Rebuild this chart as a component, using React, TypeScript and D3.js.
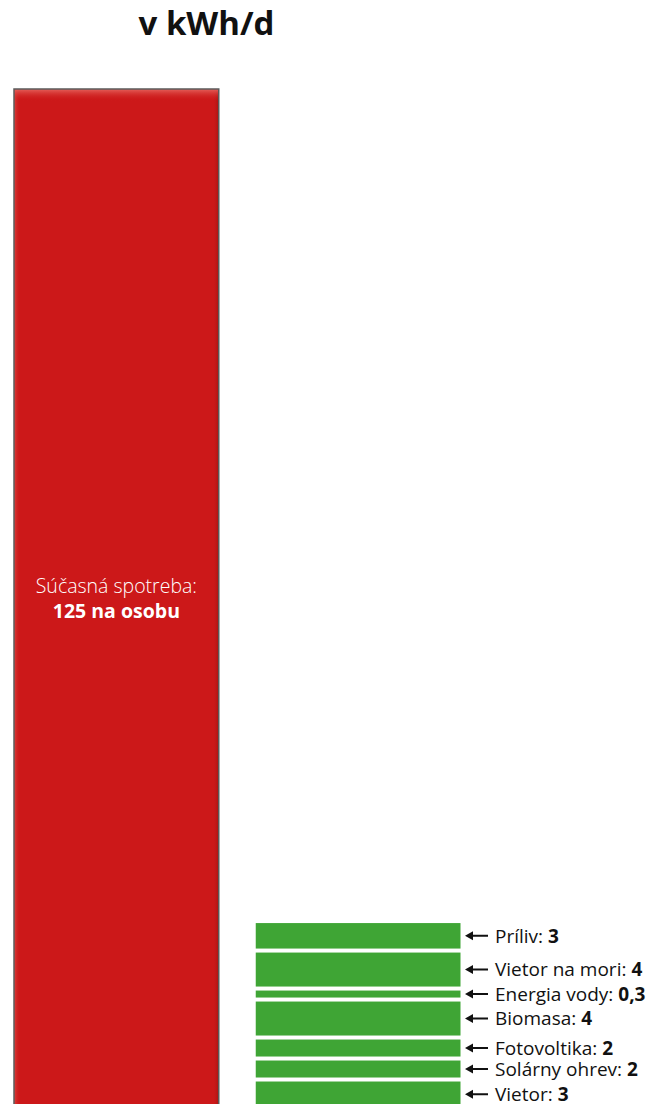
import React from "react";
import * as d3 from "d3";

const title = "v kWh/d";
const consumption = 125;
const consumptionLines = ["Súčasná spotreba:", "125 na osobu"];
const categories = ["Príliv", "Vietor na mori", "Energia vody", "Biomasa", "Fotovoltika", "Solárny ohrev", "Vietor"];
const values = [3, 4, 0.3, 4, 2, 2, 3];
const valueLabels = ["3", "4", "0,3", "4", "2", "2", "3"];

const W = 665;
const H = 1104;
const FONT = "'Open Sans', 'Noto Sans', sans-serif";

export default function App() {
  const y = d3.scaleLinear().domain([0, consumption]).range([1151, 89]);
  const xBand = d3.scaleBand().domain(["red", "green"]).range([14, 460.5]).paddingInner(0.153).paddingOuter(0);
  const bw = xBand.bandwidth();
  const rx = xBand("red")!;
  const gx = xBand("green")!;

  // stack green bars from bottom
  const stackBottom = 1107;
  const gap = 4;
  const minH = 7;
  const order = d3.range(categories.length).reverse();
  const bars: { i: number; y0: number; h: number }[] = [];
  let cur = stackBottom;
  order.forEach((i) => {
    const h = Math.max(minH, y(0) - y(values[i]));
    bars.push({ i, y0: cur - h, h });
    cur = cur - h - gap;
  });

  const redTop = y(consumption);
  const redBottom = y(0);
  const redMid = (redTop + Math.min(redBottom, stackBottom)) / 2;

  return (
    <svg width={W} height={H} style={{ position: "absolute", left: 0, top: 0, display: "block" }} fontFamily={FONT}>
      <defs>
        <linearGradient id="redTopG" x1="0" y1="0" x2="0" y2="1">
          <stop offset="0" stopColor="#E86A63" stopOpacity="0.9" />
          <stop offset="1" stopColor="#CC1A1A" stopOpacity="0" />
        </linearGradient>
        <linearGradient id="redSideG" x1="0" y1="0" x2="1" y2="0">
          <stop offset="0" stopColor="#E0554E" stopOpacity="0.7" />
          <stop offset="0.03" stopColor="#CC1A1A" stopOpacity="0" />
          <stop offset="0.97" stopColor="#CC1A1A" stopOpacity="0" />
          <stop offset="1" stopColor="#9E1212" stopOpacity="0.8" />
        </linearGradient>
      </defs>
      <text x={206.5} y={35} textAnchor="middle" fontSize={33} fontWeight={700} fill="#111">
        {title}
      </text>
      <g>
        <rect x={rx} y={redTop} width={bw} height={redBottom - redTop} fill="#CC1819" />
        <rect x={rx} y={redTop} width={bw} height={redBottom - redTop} fill="url(#redSideG)" />
        <rect x={rx} y={redTop} width={bw} height={12} fill="url(#redTopG)" />
        <rect x={rx} y={redTop} width={bw} height={redBottom - redTop} fill="none" stroke="#5b5b5b" strokeWidth={1.5} />
        <text x={rx + bw / 2} y={redMid - 5} textAnchor="middle" fontSize={19.5} fontWeight={300} fill="#fff">
          {consumptionLines[0]}
        </text>
        <text x={rx + bw / 2} y={redMid + 20} textAnchor="middle" fontSize={19.5} fontWeight={700} fill="#fff">
          {consumptionLines[1]}
        </text>
      </g>
      <g>
        {bars.map((b) => {
          const cy = b.y0 + b.h / 2;
          const ax = gx + bw + 4.5;
          return (
            <g key={b.i}>
              <rect x={gx} y={b.y0} width={bw} height={b.h} fill="#3FA535" />
              <path d={`M${ax},${cy} l8,-4.5 v3.5 h15 v2 h-15 v3.5 z`} fill="#111" />
              <text x={ax + 30} y={cy} dy="0.36em" fontSize={19} fill="#111">
                {categories[b.i]}: <tspan fontWeight={700}>{valueLabels[b.i]}</tspan>
              </text>
            </g>
          );
        })}
      </g>
    </svg>
  );
}
